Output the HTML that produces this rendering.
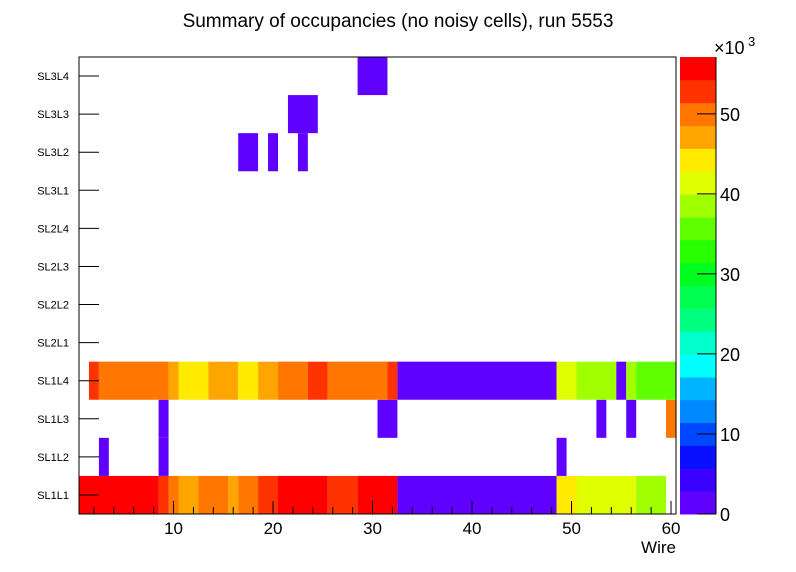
<!DOCTYPE html>
<html><head><meta charset="utf-8"><style>
body{margin:0;background:#fff}
svg{display:block;font-family:"Liberation Sans",sans-serif}
</style></head><body>
<svg id="c" width="796" height="572"></svg>
<script>
const rows=["SL1L1","SL1L2","SL1L3","SL1L4","SL2L1","SL2L2","SL2L3","SL2L4","SL3L1","SL3L2","SL3L3","SL3L4"];
// cell values: [row index, first wire, last wire, value]
const cells=[
[0,1,8,55700],[0,9,9,52900],[0,10,10,50000],[0,11,12,47100],[0,13,15,50000],[0,16,16,47100],[0,17,18,50000],[0,19,20,52900],[0,21,25,55700],[0,26,28,52900],[0,29,32,55700],[0,33,48,1400],[0,49,50,44300],[0,51,56,41400],[0,57,59,38600],
[1,3,3,1400],[1,9,9,1400],[1,49,49,1400],
[2,9,9,1400],[2,31,32,1400],[2,53,53,1400],[2,56,56,1400],[2,60,60,50000],
[3,2,2,52900],[3,3,9,50000],[3,10,10,47100],[3,11,13,44300],[3,14,16,47100],[3,17,18,44300],[3,19,20,47100],[3,21,23,50000],[3,24,25,52900],[3,26,31,50000],[3,32,32,52900],[3,33,48,1400],[3,49,50,41400],[3,51,54,38600],[3,55,55,1400],[3,56,56,38600],[3,57,60,35700],
[9,17,18,1400],[9,20,20,1400],[9,23,23,1400],
[10,22,24,1400],
[11,29,31,1400]];
const xTicks=[10,20,30,40,50,60];
const zTicks=[0,10,20,30,40,50];
const palette=["#6000ff","#3a00ff","#0a10ff","#0048ff","#0088ff","#00b4ff","#00ffff","#00ffcc","#00ff80","#00ff50","#00ff20","#28ff00","#60ff00","#a0ff00","#e0ff00","#ffea00","#ffa500","#ff7700","#ff3300","#ff0000"];
const zMax=57100;
const L=79,R=676,T=57,B=514;
const X=w=>L+(w-0.5)*(R-L)/60;
const rh=(B-T)/12;
const Y=r=>B-(r+1)*rh;
const col=v=>palette[Math.min(19,Math.floor(v/zMax*20))];
const ZY=v=>B-v/zMax*(B-T);
const svg=document.getElementById('c');
const NS='http://www.w3.org/2000/svg';
function mk(t,a,txt){const e=document.createElementNS(NS,t);for(const k in a)e.setAttribute(k,a[k]);if(txt!=null)e.textContent=txt;svg.appendChild(e);return e;}
cells.forEach(c=>{
 const e=mk('rect',{x:X(c[1]-0.5),y:Y(c[0]),width:X(c[2]+0.5)-X(c[1]-0.5),height:rh,fill:col(c[3])});
 
 
});
const fr=mk('rect',{x:L,y:T,width:R-L,height:B-T,fill:'none',stroke:'#000','stroke-width':1});


rows.forEach((r,i)=>{
 const y=Y(i)+rh/2;
 mk('line',{x1:L,x2:L+20,y1:y,y2:y,stroke:'#000'});
 const t=mk('text',{x:69,y:y+4,'text-anchor':'end','font-size':11},r);
 
 
});
for(let w=2;w<=60;w+=2){const big=w%10==0;mk('line',{x1:X(w),x2:X(w),y1:B,y2:B-(big?13:7),stroke:'#000'});}
xTicks.forEach(w=>{
 const t=mk('text',{x:X(w),y:534,'text-anchor':'middle','font-size':17},String(w));
 
 
});
const xt=mk('text',{x:676,y:553,'text-anchor':'end','font-size':17},'Wire');


const ti=mk('text',{x:398,y:27,'text-anchor':'middle','font-size':19},'Summary of occupancies (no noisy cells), run 5553');


palette.forEach((p,i)=>{
 const e=mk('rect',{x:680,y:B-(i+1)*(B-T)/20,width:36,height:(B-T)/20+0.5,fill:p});
 
 
});
mk('line',{x1:716,x2:716,y1:T,y2:B,stroke:'#000'});
zTicks.forEach(v=>{
 const y=ZY(v*1000);
 mk('line',{x1:697,x2:716,y1:y,y2:y,stroke:'#000'});
 const t=mk('text',{x:720,y:y+7,'font-size':18},String(v));
 
 
});
const ex=mk('text',{x:714,y:54,'font-size':18},'×10');


mk('text',{x:748,y:46,'font-size':13},'3');
</script>
</body></html>
